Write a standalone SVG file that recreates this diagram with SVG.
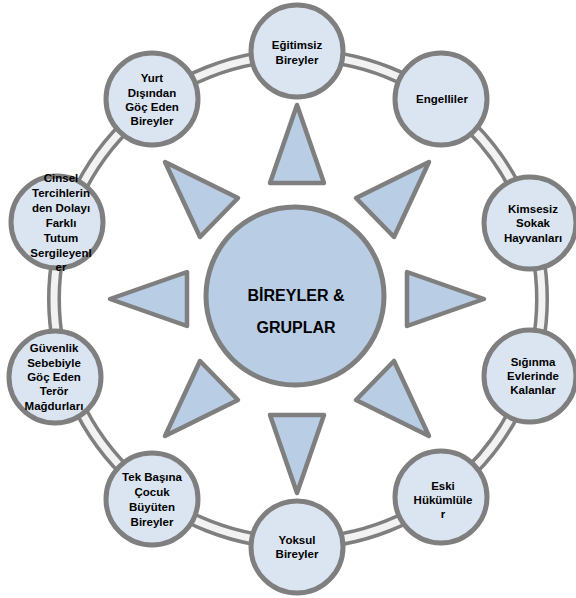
<svg xmlns="http://www.w3.org/2000/svg" width="576" height="598" viewBox="0 0 576 598">
<style>
.ring-o{fill:none;stroke:#7f7f7f;stroke-width:14}
.ring-i{fill:none;stroke:#f2f2f2;stroke-width:7}
.node{fill:#dbe5f1;stroke:#7f7f7f;stroke-width:5}
.tri{fill:#b9cde5;stroke:#7f7f7f;stroke-width:4.5;stroke-linejoin:round}
.hub{fill:#b9cde5;stroke:#7f7f7f;stroke-width:5}
text{font-family:"Liberation Sans",Arial,sans-serif;font-weight:bold;font-size:11.5px;fill:#000;text-anchor:middle}
.big{font-size:16px}
</style>
<rect width="576" height="598" fill="#fff"/>
<g id="connectors">
<circle class="ring-o" cx="298" cy="299" r="244"/>
<circle class="ring-i" cx="298" cy="299" r="244"/>
<polygon class="tri" points="297,105 324,183 270,183"/>
<polygon class="tri" points="429,162 394,237 356,198"/>
<polygon class="tri" points="484,299 407,326 407,272"/>
<polygon class="tri" points="429,436 356,400 394,361"/>
<polygon class="tri" points="297,493 270,415 324,415"/>
<polygon class="tri" points="165,436 200,361 238,400"/>
<polygon class="tri" points="110,299 187,272 187,326"/>
<polygon class="tri" points="165,162 238,198 200,237"/>
</g>
<g id="hub">
<circle class="hub" cx="295" cy="296" r="89"/>
<text class="big" x="296" y="301">BİREYLER &amp;</text>
<text class="big" x="296" y="333">GRUPLAR</text>
</g>
<g id="n1"><circle class="node" cx="297" cy="51" r="46"/>
<text x="297" y="49">Eğitimsiz</text><text x="297" y="64">Bireyler</text></g>
<g id="n2"><circle class="node" cx="441" cy="99" r="46"/>
<text x="442" y="103">Engelliler</text></g>
<g id="n3"><circle class="node" cx="530" cy="223" r="46"/>
<text x="533" y="213">Kimsesiz</text><text x="533" y="227">Sokak</text><text x="533" y="242">Hayvanları</text></g>
<g id="n4"><circle class="node" cx="530" cy="376" r="46"/>
<text x="533" y="366">Sığınma</text><text x="533" y="380">Evlerinde</text><text x="533" y="394">Kalanlar</text></g>
<g id="n5"><circle class="node" cx="441" cy="497" r="46"/>
<text x="443" y="490">Eski</text><text x="443" y="504">Hükümlüle</text><text x="443" y="518">r</text></g>
<g id="n6"><circle class="node" cx="297" cy="547" r="46"/>
<text x="297" y="544">Yoksul</text><text x="297" y="558">Bireyler</text></g>
<g id="n7"><circle class="node" cx="152" cy="499" r="46"/>
<text x="152" y="481">Tek Başına</text><text x="152" y="496">Çocuk</text><text x="152" y="511">Büyüten</text><text x="152" y="526">Bireyler</text></g>
<g id="n8"><circle class="node" cx="55" cy="377" r="46"/>
<text x="54" y="352">Güvenlik</text><text x="54" y="367">Sebebiyle</text><text x="54" y="381">Göç Eden</text><text x="54" y="395">Terör</text><text x="54" y="410">Mağdurları</text></g>
<g id="n9"><circle class="node" cx="57" cy="222" r="46"/>
<text x="61" y="182">Cinsel</text><text x="61" y="197">Tercihlerin</text><text x="61" y="212">den Dolayı</text><text x="61" y="227">Farklı</text><text x="61" y="242">Tutum</text><text x="61" y="257">Sergileyenl</text><text x="61" y="271">er</text></g>
<g id="n10"><circle class="node" cx="152" cy="99" r="46"/>
<text x="152" y="82">Yurt</text><text x="152" y="97">Dışından</text><text x="152" y="111">Göç Eden</text><text x="152" y="125">Bireyler</text></g>
</svg>
